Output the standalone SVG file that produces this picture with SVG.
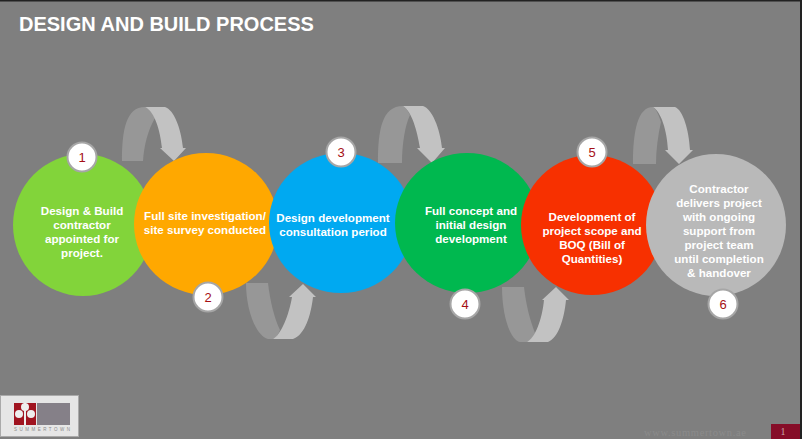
<svg xmlns="http://www.w3.org/2000/svg" width="802" height="439" viewBox="0 0 802 439">
<style>
text{font-family:"Liberation Sans",Arial,sans-serif}
.t{fill:#fff;font-size:11.6px;font-weight:700;text-anchor:middle}
.b{fill:#fff;stroke:#a6a6a6;stroke-width:2}
.n{fill:#a50f15;font-size:13px;text-anchor:middle}
.d{fill:#979797}
.l{fill:#c2c2c2}
.s{font-family:"Liberation Serif",serif}
</style>
<rect width="802" height="439" fill="#7f7f7f"/>
<rect width="802" height="1.500" fill="#222"/>
<rect x="800" width="2" height="439" fill="#222"/>
<text x="19" y="31" font-size="20" font-weight="700" fill="#fff">DESIGN AND BUILD PROCESS</text>
<g id="connectors">
<path class="d" d="M122 161C122 130 126 107 145 107C149 109 153 113 155 118C148 130 144 145 143 161Z"/>
<path class="l" d="M145 107H165C174 110 181 128 183 148H186L174 161L160 148H162C160 130 155 112 145 107Z"/>
<path class="d" d="M378 163C378 130 382 106 403 106C406 108 408 111 410 115C405 125 402 145 402 163Z"/>
<path class="l" d="M403 106H423C432 109 440 128 442 148H445L432 163L417 148H420C417 130 412 112 403 106Z"/>
<path class="d" d="M633 164C633 130 638 107 653 107C657 110 659 116 661 122C658 135 656 150 656 164Z"/>
<path class="l" d="M653 107H675C683 110 689 130 690 150H693L679 164L665 150H668C667 130 661 112 653 107Z"/>
<path class="d" d="M246 283H268C270 300 274 318 280 330C278 335 276 338 273 339H268C256 336 246 310 246 283Z"/>
<path class="l" d="M273 339C281 335 289 315 292 297H289L303 284L316 297H313C311 315 305 335 293 339Z"/>
<path class="d" d="M502 287H524C526 305 530 320 535 333C532 338 530 341 527 342H520C510 340 502 315 502 287Z"/>
<path class="l" d="M527 342C535 338 542 320 544 300H542L556 287L569 300H566C564 320 558 338 548 342Z"/>
</g>
<g id="node1"><ellipse cx="83" cy="225" rx="70" ry="71" fill="#82d43a"/></g>
<g id="node2"><ellipse cx="206" cy="224" rx="72" ry="71" fill="#ffa800"/></g>
<g id="node3"><ellipse cx="341" cy="223" rx="72" ry="70" fill="#00a9f1"/></g>
<g id="node4"><ellipse cx="467" cy="223" rx="72" ry="70" fill="#00b84f"/></g>
<g id="node5"><ellipse cx="592" cy="225" rx="71" ry="70" fill="#f73000"/></g>
<g id="node6"><ellipse cx="716" cy="225" rx="70" ry="71" fill="#b9b9b9"/></g>
<g id="label1"><text class="t" x="82" y="215">Design &amp; Build</text><text class="t" x="82" y="229">contractor</text><text class="t" x="82" y="243">appointed for</text><text class="t" x="82" y="257">project.</text></g>
<g id="label2"><text class="t" x="205" y="220">Full site investigation/</text><text class="t" x="205" y="234">site survey conducted</text></g>
<g id="label3"><text class="t" x="333" y="222">Design development</text><text class="t" x="333" y="236">consultation period</text></g>
<g id="label4"><text class="t" x="471" y="215">Full concept and</text><text class="t" x="471" y="229">initial design</text><text class="t" x="471" y="243">development</text></g>
<g id="label5"><text class="t" x="592" y="221">Development of</text><text class="t" x="592" y="235">project scope and</text><text class="t" x="592" y="249">BOQ (Bill of</text><text class="t" x="592" y="263">Quantities)</text></g>
<g id="label6"><text class="t" x="719" y="193">Contractor</text><text class="t" x="719" y="207">delivers project</text><text class="t" x="719" y="221">with ongoing</text><text class="t" x="719" y="235">support from</text><text class="t" x="719" y="249">project team</text><text class="t" x="719" y="263">until completion</text><text class="t" x="719" y="277">&amp; handover</text></g>
<g id="badge1"><circle class="b" cx="82" cy="157" r="14.500"/><text class="n" x="82" y="162">1</text></g>
<g id="badge2"><circle class="b" cx="208" cy="297" r="14.500"/><text class="n" x="208" y="302">2</text></g>
<g id="badge3"><circle class="b" cx="341" cy="152" r="14.500"/><text class="n" x="341" y="157">3</text></g>
<g id="badge4"><circle class="b" cx="465" cy="304" r="14.500"/><text class="n" x="465" y="309">4</text></g>
<g id="badge5"><circle class="b" cx="592" cy="152" r="14.500"/><text class="n" x="592" y="157">5</text></g>
<g id="badge6"><circle class="b" cx="723" cy="304" r="14.500"/><text class="n" x="723" y="309">6</text></g>
<g id="logo">
<rect x="0.500" y="395.500" width="78" height="41" fill="#e6e6e6" stroke="#aaa"/>
<rect x="14" y="403" width="22" height="22" fill="#a01420"/>
<rect x="37" y="403" width="33" height="22" fill="#858088"/>
<circle cx="25" cy="407" r="4" fill="#eee"/>
<circle cx="19" cy="414" r="4" fill="#eee"/>
<circle cx="31" cy="414" r="4" fill="#eee"/>
<rect x="24" y="403" width="2" height="22" fill="#eee"/>
<text x="42" y="431" font-size="4.500" fill="#8a8a8a" text-anchor="middle" textLength="56">SUMMERTOWN</text>
</g>
<text class="s" x="695" y="436" font-size="10.500" fill="#8b8b8b" text-anchor="middle" textLength="102">www.summertown.ae</text>
<rect x="771" y="424" width="29" height="15" fill="#860d28"/>
<text class="s" x="783" y="435" font-size="10" fill="#c9a9a9" text-anchor="middle">1</text>
</svg>
